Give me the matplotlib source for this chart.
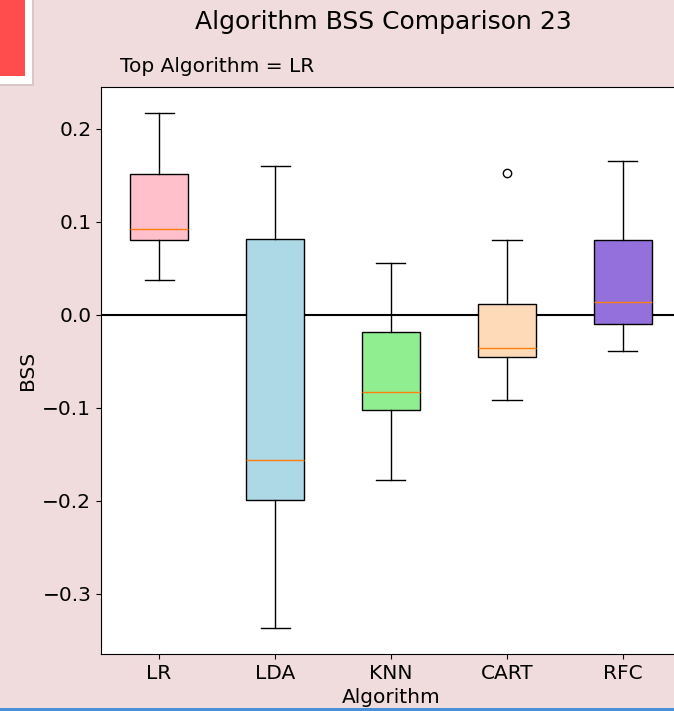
import matplotlib
matplotlib.use("Agg")
import matplotlib.pyplot as plt
from matplotlib.patches import Rectangle

algorithms = ["LR", "LDA", "KNN", "CART", "RFC"]
whisker_low = [0.0376, -0.3366, -0.177, -0.0914, -0.0387]
q1 = [0.0806, -0.199, -0.102, -0.045, -0.0097]
median = [0.092, -0.156, -0.083, -0.0355, 0.014]
q3 = [0.1516, 0.0817, -0.018, 0.0118, 0.081]
whisker_high = [0.217, 0.160, 0.056, 0.081, 0.1656]
outliers = [[], [], [], [0.153], []]
box_colors = ["pink", "lightblue", "lightgreen", "peachpuff", "mediumpurple"]

W, H = 674, 711
fig = plt.figure(figsize=(W / 100, H / 100), dpi=100)
bg = "#f0dcdc"
fig.patch.set_facecolor(bg)

# axes placement (pixels): left 101, right 681 (beyond crop), top 87, bottom 654
left, right, top, bottom = 101, 681, 87, 654
ax = fig.add_axes([left / W, 1 - bottom / H, (right - left) / W, (bottom - top) / H])

stats = []
for i, name in enumerate(algorithms):
    stats.append(dict(label=name, whislo=whisker_low[i], q1=q1[i], med=median[i],
                      q3=q3[i], whishi=whisker_high[i], fliers=outliers[i]))

bp = ax.bxp(stats, patch_artist=True, widths=0.5,
            medianprops=dict(color="#ff7f0e", linewidth=1.0),
            flierprops=dict(marker="o", markerfacecolor="none", markeredgecolor="black", markersize=6))
for patch, c in zip(bp["boxes"], box_colors):
    patch.set_facecolor(c)
    patch.set_edgecolor("black")

ax.axhline(0, color="black", linewidth=1.5, zorder=0.5)
ax.set_xlim(0.5, 5.5)
ax.set_ylim(-0.3645, 0.245)
ax.set_yticks([-0.3, -0.2, -0.1, 0.0, 0.1, 0.2])
ax.tick_params(labelsize=14.5)
ax.set_xlabel("Algorithm", fontsize=14.5, labelpad=4)
ax.set_ylabel("BSS", fontsize=14.5)

fig.text(383 / W, 1 - 22 / H, "Algorithm BSS Comparison 23", ha="center", va="center", fontsize=18)
fig.text(120 / W, 1 - 66 / H, "Top Algorithm = LR", ha="left", va="center", fontsize=14.5)

# decorative UI elements seen in the screenshot
fig.patches.append(Rectangle((0, 1 - 86 / H), 34 / W, 86 / H, transform=fig.transFigure,
                             facecolor="#d9c6c6", edgecolor="none", zorder=4))
fig.patches.append(Rectangle((0, 1 - 84 / H), 32 / W, 84 / H, transform=fig.transFigure,
                             facecolor="white", edgecolor="none", zorder=5))
fig.patches.append(Rectangle((0, 1 - 76 / H), 25 / W, 76 / H, transform=fig.transFigure,
                             facecolor="#ff4d4d", edgecolor="none", zorder=6))
fig.patches.append(Rectangle((0, 0), 1, 3 / H, transform=fig.transFigure,
                             facecolor="#4a90d9", edgecolor="none", zorder=6))

fig.savefig("out.png", dpi=100, facecolor=bg)
